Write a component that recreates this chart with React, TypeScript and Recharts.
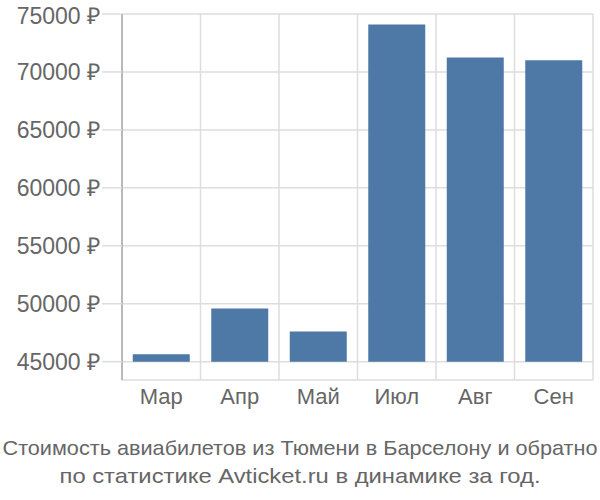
import { BarChart, Bar, XAxis, YAxis, CartesianGrid } from "recharts";

const months = ["Мар", "Апр", "Май", "Июл", "Авг", "Сен"];
const prices = [45650, 49600, 47600, 74100, 71250, 71000];
const yTicks = [45000, 50000, 55000, 60000, 65000, 70000, 75000];
const baseline = 45000;
const titleLines = [
  "Стоимость авиабилетов из Тюмени в Барселону и обратно",
  "по статистике Avticket.ru в динамике за год.",
];

const chartData = months.map((m, i) => ({ month: m, range: [baseline, prices[i]] }));

const textColor = "#666";
const gridColor = "#dddddd";

export default function App() {
  return (
    <div style={{ position: "absolute", left: 0, top: 0, width: 600, height: 500, background: "#fff" }}>
      <BarChart
        width={600}
        height={420}
        data={chartData}
        margin={{ top: 14, right: 7, bottom: 0, left: 0 }}
        barCategoryGap="13.7%"
      >
        <CartesianGrid
          stroke={gridColor}
          strokeWidth={1.5}
          verticalCoordinatesGenerator={({ offset }: any) =>
            months.concat([""]).map((_, i) => offset.left + (i * offset.width) / months.length)
          }
        />
        <XAxis
          dataKey="month"
          axisLine={false}
          tickLine={false}
          height={40}
          tick={{ fill: textColor, fontSize: 22, fontFamily: "Liberation Sans, Arial, sans-serif" }}
        />
        <YAxis
          type="number"
          domain={[43420, 75000]}
          ticks={yTicks}
          width={122}
          tickSize={20}
          tickLine={{ stroke: gridColor, strokeWidth: 1.5 }}
          axisLine={{ stroke: "#aaaaaa", strokeWidth: 1.5 }}
          tickFormatter={(v: number) => `${v} ₽`}
          tick={{ fill: textColor, fontSize: 23, fontFamily: "Liberation Sans, Arial, sans-serif" }}
        />
        <Bar dataKey="range" fill="#4e78a6" isAnimationActive={false} />
      </BarChart>
      <svg width={600} height={80} style={{ display: "block" }}>
        <text
          x={300}
          y={35}
          textAnchor="middle"
          fill={textColor}
          fontSize={21}
          fontFamily="Liberation Sans Narrow, Liberation Sans, Arial, sans-serif"
          textLength={595}
          lengthAdjust="spacingAndGlyphs"
        >
          {titleLines[0]}
        </text>
        <text
          x={300}
          y={63}
          textAnchor="middle"
          fill={textColor}
          fontSize={21}
          fontFamily="Liberation Sans Narrow, Liberation Sans, Arial, sans-serif"
          textLength={481}
          lengthAdjust="spacingAndGlyphs"
        >
          {titleLines[1]}
        </text>
      </svg>
    </div>
  );
}
